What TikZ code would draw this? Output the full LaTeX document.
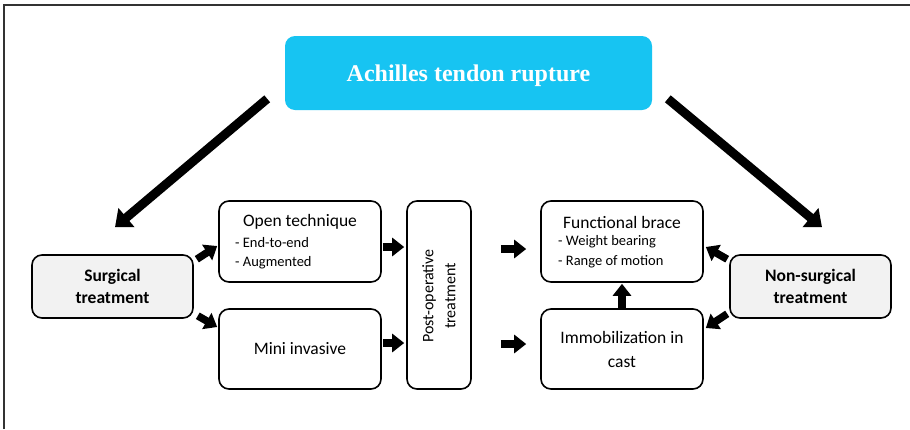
\documentclass[tikz,border=0pt]{standalone}
\usepackage{fontspec}
\setmainfont{Carlito}
\newfontfamily\titlefont{Liberation Serif}
\usetikzlibrary{arrows.meta,calc}
\definecolor{titlecyan}{HTML}{17C4F2}
\definecolor{lightfill}{HTML}{F2F2F2}
\definecolor{framegray}{HTML}{333333}
\tikzset{
  rbox/.style={draw, line width=1.6pt, rounded corners=10pt, inner sep=0pt, align=center,
     font=\fontsize{17.5}{22.5}\selectfont},
  txt/.style={inner sep=0pt},
  bigarrow/.style={line width=9pt, -{Triangle[length=15pt,width=24pt]}},
  smallarrow/.style={line width=7.5pt, -{Triangle[length=12pt,width=18pt]}},
  sub/.style={inner sep=0pt, anchor=west, font=\fontsize{14.5}{17}\selectfont},
}
\begin{document}
\begin{tikzpicture}[x=1pt,y=-1pt]
\useasboundingbox (0,0) rectangle (910,429);
\fill[white] (0,0) rectangle (910,429);
\draw[framegray, line width=2pt] (4,429) -- (4,5) -- (910,5);

% boxes
\node[rbox, draw=none, fill=titlecyan, minimum width=367pt, minimum height=74pt] (title) at (468.5,73) {};
\node[txt, font=\titlefont\bfseries\fontsize{24}{28}\selectfont, text=white] (titleT) at (468.5,75.5) {Achilles tendon rupture};
\node[rbox, fill=lightfill, minimum width=161pt, minimum height=63pt, font=\bfseries\fontsize{17.5}{22}\selectfont] (surg) at (112.5,286.5) {Surgical\\treatment};
\node[rbox, minimum width=162pt, minimum height=81pt] (open) at (300,241.5) {};
\node[rbox, minimum width=162pt, minimum height=80pt] (mini) at (300,349) {Mini invasive};
\node[rbox, minimum width=64pt, minimum height=188pt] (post) at (439,295) {};
\node[rbox, minimum width=162pt, minimum height=81pt] (func) at (622,241.5) {};
\node[rbox, minimum width=162pt, minimum height=80pt, font=\fontsize{17.5}{24}\selectfont] (immob) at (622,349) {Immobilization in\\cast};
\node[rbox, fill=lightfill, minimum width=161pt, minimum height=63pt, font=\bfseries\fontsize{17.5}{22}\selectfont] (nons) at (810.5,286.5) {Non-surgical\\treatment};

% texts inside boxes
\node[txt, font=\fontsize{17.5}{21}\selectfont] (openT) at (300,222) {Open technique};
\node[sub] (open1) at (235,243) {- End-to-end};
\node[sub] (open2) at (235,263) {- Augmented};
\node[txt, font=\fontsize{17.5}{21}\selectfont] (funcT) at (622,222) {Functional brace};
\node[sub] (func1) at (558,242) {- Weight bearing};
\node[sub] (func2) at (558,262) {- Range of motion};
\node[txt, rotate=90, align=center, font=\fontsize{16}{22}\selectfont] (postT) at (439,296) {Post-operative\\treatment};

% big arrows
\draw[bigarrow] ($(title.south west)+(-17,-12)$) -- ($(surg.north)+(2.5,-27)$);
\draw[bigarrow] ($(title.south east)+(15,-12)$) -- ($(nons.north)+(11.5,-27)$);

% small arrows
\draw[smallarrow] ($(surg.north east)+(3,5)$) -- ($(open.west)+(-1,4.5)$);
\draw[smallarrow] ($(surg.south east)+(4,-3)$) -- ($(mini.west)+(-1,-22)$);
\draw[smallarrow] ($(open.east)+(1,5.5)$) -- ($(open.east -| post.west)+(-2,5.5)$);
\draw[smallarrow] ($(mini.east)+(1,-6)$) -- ($(mini.east -| post.west)+(-2,-6)$);
\draw[smallarrow] ($(post.east |- func.west)+(29,7.5)$) -- ($(func.west)+(-14,7.5)$);
\draw[smallarrow] ($(post.east |- immob.west)+(29,-5)$) -- ($(immob.west)+(-14,-5)$);
\draw[smallarrow, shorten >=1pt] (immob.north) -- (func.south);
\draw[smallarrow] ($(nons.north west)+(-2,5)$) -- ($(func.east)+(2,5.5)$);
\draw[smallarrow] ($(nons.south west)+(-2,-5)$) -- ($(immob.east)+(2,-21)$);
\end{tikzpicture}
\end{document}
